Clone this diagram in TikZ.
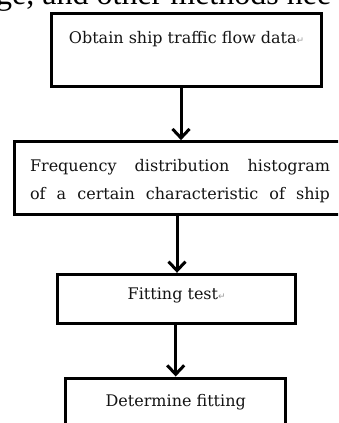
\documentclass[tikz,border=0pt]{standalone}
\usepackage{fontspec}
\setmainfont{DejaVu Serif}
\newfontfamily\bodyfont{Liberation Serif}
\newfontfamily\markfont{DejaVu Sans}
\usepackage{xcolor}
\definecolor{InkBlack}{HTML}{000000}
\definecolor{TextGray}{HTML}{141414}
\definecolor{MarkGray}{HTML}{9A9A9A}
\usetikzlibrary{arrows.meta}
\tikzset{
  stepbox/.style={draw=InkBlack,line width=3pt,fill=white,align=center,
    inner sep=0pt,font=\fontsize{16}{19}\selectfont,text=TextGray},
  flow/.style={-{Straight Barb[length=9pt,width=17pt]},draw=InkBlack,line width=3pt},
}
\newcommand{\rt}{{\markfont\fontsize{9}{9}\selectfont\textcolor{MarkGray}{↵}}}
\newcommand{\fillline}[1]{\makebox[300pt][s]{#1}}

\begin{document}
\begin{tikzpicture}[x=1pt,y=-1pt]
\useasboundingbox (0,0) rectangle (338,423);
\clip (0,0) rectangle (338,423);
\node[anchor=base west,inner sep=0pt,font=\bodyfont\fontsize{32}{32}\selectfont] (prev)
  at (-4,5) {ge, and other methods nee};

\node[stepbox,minimum width=270pt,minimum height=73.4pt,text height=11pt,text depth=24pt]
  (obtain) at (186.6,50) {Obtain ship traffic flow data\rt};
\node[stepbox,minimum width=331pt,minimum height=73.3pt,text height=11pt,text depth=24.6pt,
  font=\fontsize{16}{28}\selectfont] (hist) at (180,178.3)
  {\parbox[t]{300pt}{\fillline{Frequency distribution histogram}\\
   \fillline{of a certain characteristic of ship}}};
\node[stepbox,minimum width=238pt,minimum height=49pt,text height=11pt,text depth=9.4pt]
  (test) at (176.7,298.8) {Fitting test\rt};
\node[stepbox,minimum width=220pt,minimum height=50.4pt,text height=11pt,text depth=4pt]
  (fit) at (175.7,403.2) {Determine fitting};

\draw[flow] ([xshift=-5.6pt]obtain.south) -- ([xshift=-5.6pt]obtain.south |- hist.north);
\draw[flow] ([xshift=-3pt]hist.south) -- ([xshift=-3pt]hist.south |- test.north);
\draw[flow] ([xshift=-1pt]test.south) -- ([xshift=-1pt]test.south |- fit.north);
\end{tikzpicture}
\end{document}
